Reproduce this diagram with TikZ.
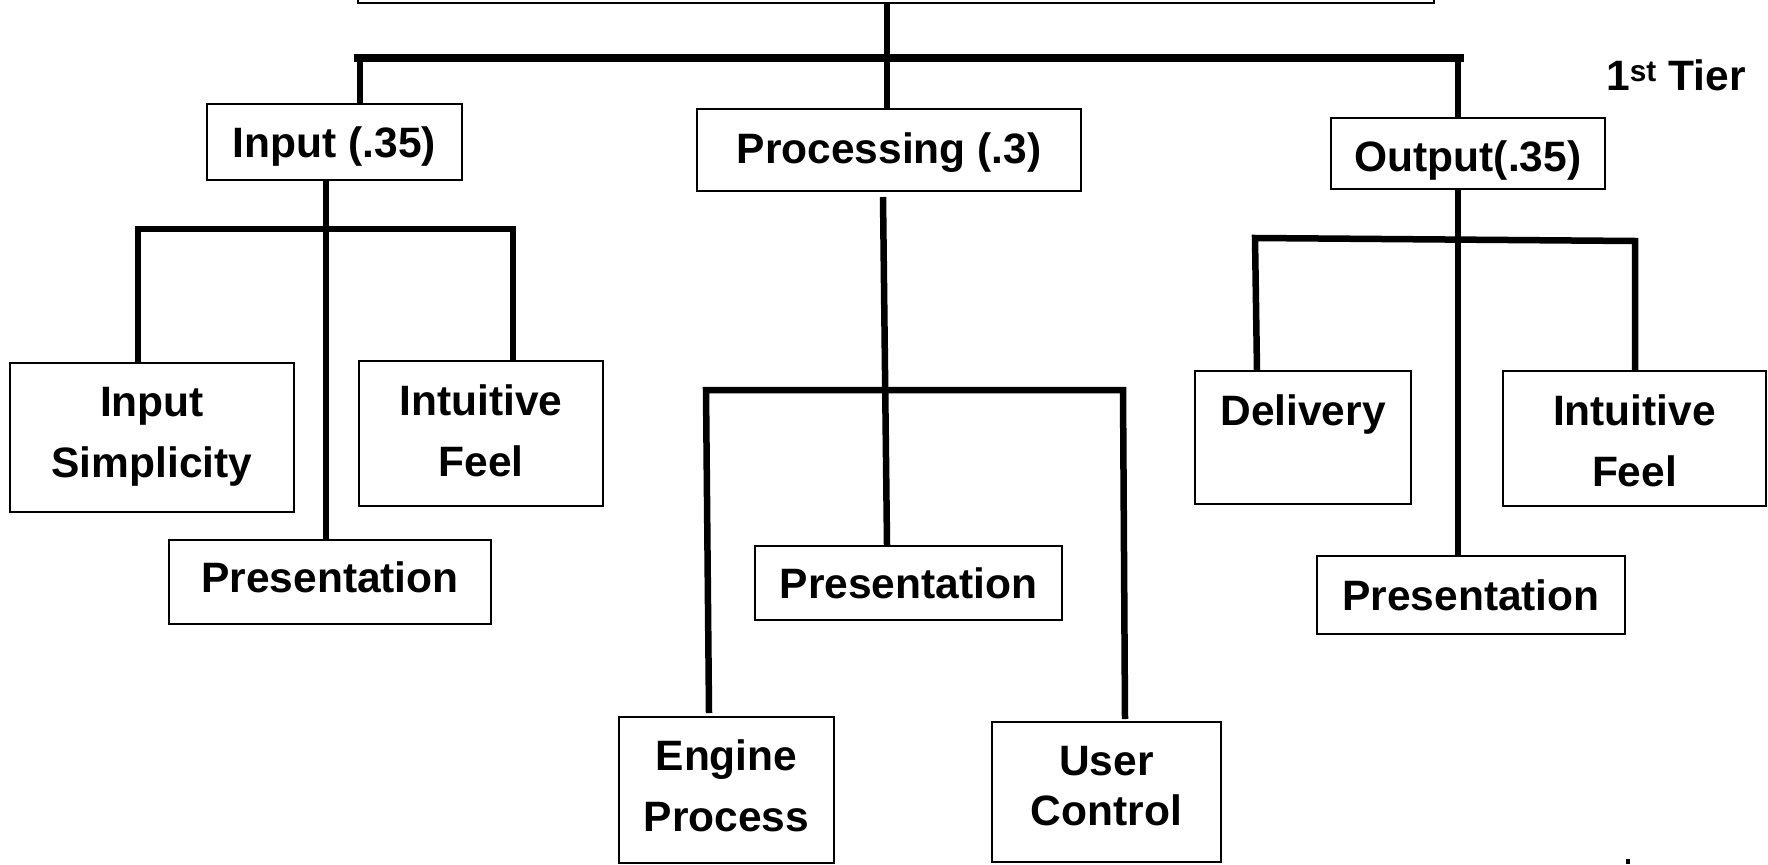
\documentclass[tikz,border=0pt]{standalone}
\usepackage{fontspec}
\setmainfont{Liberation Sans}
\begin{document}
\begin{tikzpicture}[x=1pt,y=-1pt,
  box/.style={draw, line width=1.6pt, rectangle, inner sep=0pt},
  lbl/.style={inner sep=0pt, align=center, font=\fontsize{42.5}{61}\selectfont\bfseries},
  conn/.style={line width=6.5pt},
  bar/.style={line width=8.5pt}]
\useasboundingbox (0,0) rectangle (1768,864);
\clip (0,0) rectangle (1768,864);

% boxes
\node[box, minimum width=1076pt, minimum height=60pt] (top) at (896,-27) {};
\node[box, minimum width=255pt, minimum height=76pt] (inp) at (334.5,142) {};
\node[box, minimum width=384pt, minimum height=82pt] (proc) at (889,150) {};
\node[box, minimum width=274pt, minimum height=71pt] (out) at (1468,153.5) {};

\node[box, minimum width=284pt, minimum height=149pt] (isimp) at (152,437.5) {};
\node[box, minimum width=244pt, minimum height=145pt] (ifeel1) at (481,433.5) {};
\node[box, minimum width=322pt, minimum height=84pt] (pres1) at (330,582) {};

\node[box, minimum width=307pt, minimum height=74pt] (pres2) at (908.5,583) {};
\node[box, minimum width=215pt, minimum height=146pt] (eng) at (726.5,790) {};
\node[box, minimum width=229pt, minimum height=140pt] (uc) at (1106.5,792) {};

\node[box, minimum width=216pt, minimum height=133pt] (deliv) at (1303,437.5) {};
\node[box, minimum width=263pt, minimum height=135pt] (ifeel2) at (1634.5,438.5) {};
\node[box, minimum width=308pt, minimum height=78pt] (pres3) at (1471,595) {};

% texts
\node[lbl] (inpt) at (334.5,146.5) {Input (.35)};
\node[lbl] (proct) at (889,152.3) {Processing (.3)};
\node[lbl] (outt) at (1468,160.3) {Output(.35)};
\node[lbl] (isimpt) at (152,436.5) {Input\\Simplicity};
\node[lbl] (ifeel1t) at (481,430.7) {Intuitive\\Feel};
\node[lbl] (pres1t) at (330,577.5) {Presentation};
\node[lbl] (pres2t) at (908.5,583) {Presentation};
\node[lbl] (engt) at (726.5,786) {Engine\\Process};
\node[lbl, font=\fontsize{42.5}{50}\selectfont\bfseries] (uct) at (1106.5,786.4) {User\\Control};
\node[lbl] (delivt) at (1303,414.5) {Delivery};
\node[lbl] (ifeel2t) at (1634.5,440.8) {Intuitive\\Feel};
\node[lbl] (pres3t) at (1471,595) {Presentation};
\node[lbl] (tier) at (1676,75) {1\textsuperscript{st} Tier};

% first tier
\coordinate (tj) at (887,58);
\coordinate (bl) at (354,58);
\coordinate (br) at (1464,58);
\coordinate (ld) at (360,58);
\coordinate (rd) at (1458,58);
\draw[conn] (top.south -| tj) -- (proc.north -| tj);
\draw[bar] (bl) -- (br);
\draw[conn] (ld) -- (inp.north -| ld);
\draw[conn] (rd) -- (out.north -| rd);

% input subtree
\coordinate (is) at (326,0);
\coordinate (ibl) at (138,229);
\coordinate (ibr) at (513,229);
\draw[conn] (inp.south -| is) -- (pres1.north -| is);
\draw[conn] (isimp.north -| ibl) -- (ibl) -- (ibr) -- (ifeel1.north -| ibr);

% processing subtree
\coordinate (ps1) at (883,197);
\coordinate (ps2) at (887,0);
\coordinate (pbl) at (706,390);
\coordinate (pbr) at (1123,390);
\coordinate (pel) at (709,713);
\coordinate (per) at (1125,719);
\draw[conn] (ps1) -- (pres2.north -| ps2);
\draw[conn] (pel) -- (pbl) -- (pbr) -- (per);

% output subtree
\coordinate (os) at (1458,0);
\coordinate (obl) at (1255,238);
\coordinate (obr) at (1635,241);
\coordinate (odl) at (1257,371);
\draw[conn] (out.south -| os) -- (pres3.north -| os);
\draw[conn] (odl) -- (obl) -- (obr) -- (ifeel2.north -| obr);

% small fragment at bottom edge
\fill (1626,859) rectangle (1630,864);
\end{tikzpicture}
\end{document}
